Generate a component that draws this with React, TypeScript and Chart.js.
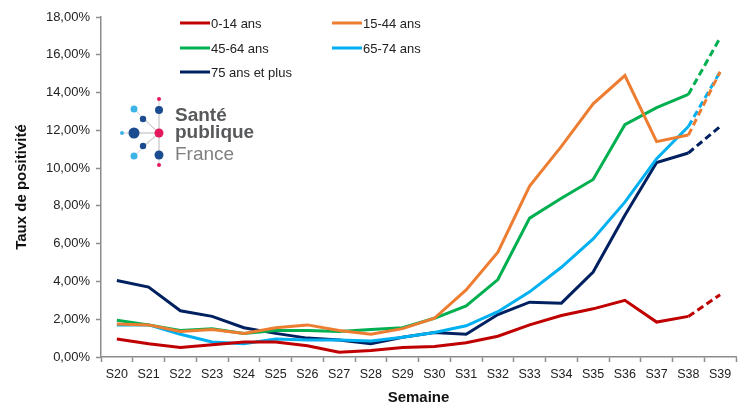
import React, { useEffect, useRef } from "react";
import { Chart, registerables } from "chart.js";

Chart.register(...registerables);

const weeks = ["S20","S21","S22","S23","S24","S25","S26","S27","S28","S29","S30","S31","S32","S33","S34","S35","S36","S37","S38","S39"];
const age0_14 = [0.95,0.7,0.5,0.65,0.8,0.8,0.6,0.25,0.35,0.5,0.55,0.75,1.1,1.7,2.2,2.55,3.0,1.85,2.15,3.3];
const age15_44 = [1.75,1.7,1.35,1.45,1.25,1.55,1.7,1.4,1.2,1.5,2.05,3.55,5.55,9.05,11.15,13.4,14.9,11.4,11.75,15.1];
const age45_64 = [1.95,1.7,1.4,1.5,1.25,1.4,1.4,1.35,1.45,1.55,2.05,2.7,4.1,7.35,8.4,9.4,12.3,13.2,13.9,16.9];
const age65_74 = [1.7,1.7,1.2,0.8,0.7,0.95,0.9,0.9,0.85,1.05,1.3,1.65,2.4,3.45,4.75,6.25,8.2,10.5,12.2,15.1];
const age75p = [4.05,3.7,2.45,2.15,1.55,1.25,1.0,0.9,0.7,1.05,1.3,1.2,2.25,2.9,2.85,4.5,7.5,10.3,10.8,12.2];

const seriesLabels = ["0-14 ans","15-44 ans","45-64 ans","65-74 ans","75 ans et plus"];
const seriesColors = ["#C00000","#ED7D31","#00B050","#00B0F0","#002060"];
const seriesData = [age0_14, age15_44, age45_64, age65_74, age75p];

const FONT = "'Liberation Sans', Arial, sans-serif";

const legendPlugin = {
  id: "customLegend",
  afterDraw(chart: any) {
    const ctx = chart.ctx;
    ctx.save();
    const pos = [[180, 23], [332, 23], [180, 48], [332, 48], [180, 72]];
    ctx.font = `13px ${FONT}`;
    ctx.textBaseline = "middle";
    seriesLabels.forEach((lab, i) => {
      const [x, y] = pos[i];
      ctx.strokeStyle = seriesColors[i];
      ctx.lineWidth = 3;
      ctx.beginPath();
      ctx.moveTo(x, y);
      ctx.lineTo(x + 30, y);
      ctx.stroke();
      ctx.fillStyle = "#222";
      ctx.fillText(lab, x + 31, y + 1);
    });
    ctx.restore();
  },
};

const logoPlugin = {
  id: "logo",
  afterDraw(chart: any) {
    const ctx = chart.ctx;
    ctx.save();
    const navy = "#1a4c8f";
    const light = "#3cb4e5";
    const pink = "#e5195e";
    const cx = 159, cy = 133;
    const dots: [number, number, number, string][] = [
      [159, 99, 2, pink],
      [159, 110, 4, navy],
      [134, 109, 3.5, light],
      [143, 119, 3.2, navy],
      [134, 133, 5.5, navy],
      [122, 133, 2, light],
      [159, 133, 4.5, pink],
      [143, 146, 3.2, navy],
      [134, 156, 3.5, light],
      [159, 155, 4.5, navy],
      [159, 165, 2, pink],
    ];
    ctx.strokeStyle = "#d0d0d0";
    ctx.lineWidth = 1;
    dots.forEach(([x, y]) => {
      ctx.beginPath();
      ctx.moveTo(cx, cy);
      ctx.lineTo(x, y);
      ctx.stroke();
    });
    dots.forEach(([x, y, r, c]) => {
      ctx.fillStyle = c;
      ctx.beginPath();
      ctx.arc(x, y, r, 0, Math.PI * 2);
      ctx.fill();
    });
    ctx.textBaseline = "alphabetic";
    ctx.fillStyle = "#58595b";
    ctx.font = `bold 19px ${FONT}`;
    ctx.fillText("Santé", 175, 121);
    ctx.fillText("publique", 175, 138);
    ctx.fillStyle = "#808080";
    ctx.font = `19px ${FONT}`;
    ctx.fillText("France", 175, 160);
    ctx.restore();
  },
};

export default function App() {
  const ref = useRef<HTMLCanvasElement>(null);
  useEffect(() => {
    document.body.style.margin = "0";
    const canvas = ref.current;
    if (!canvas) return;
    const chart = new Chart(canvas, {
      type: "line",
      data: {
        labels: weeks,
        datasets: seriesData.map((d, i) => ({
          label: seriesLabels[i],
          data: d,
          borderColor: seriesColors[i],
          backgroundColor: seriesColors[i],
          borderWidth: 3,
          pointRadius: 0,
          tension: 0,
          fill: false,
          segment: {
            borderDash: (c: any) => (c.p1DataIndex === weeks.length - 1 ? [7, 4] : undefined),
          },
        })),
      },
      options: {
        animation: false,
        responsive: false,
        maintainAspectRatio: false,
        layout: { padding: { left: 0, top: 17, right: 8, bottom: 0 } },
        plugins: {
          legend: { display: false },
          tooltip: { enabled: false },
        },
        scales: {
          x: {
            type: "category",
            offset: true,
            afterFit: (s: any) => { s.height = 50; },
            grid: {
              drawOnChartArea: false,
              drawTicks: true,
              tickLength: 5,
              tickColor: "#8c8c8c",
              tickWidth: 1.5,
              offset: true,
            },
            border: { color: "#8c8c8c", width: 1.5 },
            ticks: {
              color: "#222",
              font: { family: FONT, size: 12.5 },
              padding: 5,
              maxRotation: 0,
              autoSkip: false,
            },
            title: {
              display: true,
              text: "Semaine",
              color: "#111",
              font: { family: FONT, size: 15, weight: "bold", lineHeight: 1.2 },
              padding: { top: 0, bottom: 0 },
            },
          },
          y: {
            min: 0,
            max: 18,
            afterFit: (s: any) => { s.width = 101; },
            grid: {
              drawOnChartArea: false,
              drawTicks: true,
              tickLength: 5,
              tickColor: "#8c8c8c",
              tickWidth: 1.5,
            },
            border: { color: "#8c8c8c", width: 1.5 },
            ticks: {
              stepSize: 2,
              color: "#222",
              font: { family: FONT, size: 13 },
              padding: 6,
              callback: (v: any) => Number(v).toFixed(2).replace(".", ",") + "%",
            },
            title: {
              display: true,
              text: "Taux de positivité",
              color: "#111",
              font: { family: FONT, size: 15, weight: "bold", lineHeight: 1.2 },
              padding: { top: 13, bottom: 0 },
            },
          },
        },
      },
      plugins: [legendPlugin, logoPlugin],
    } as any);
    return () => chart.destroy();
  }, []);
  return (
    <div style={{ width: 744, height: 407, background: "#fff" }}>
      <canvas ref={ref} width={744} height={407} style={{ display: "block", width: 744, height: 407 }} />
    </div>
  );
}
